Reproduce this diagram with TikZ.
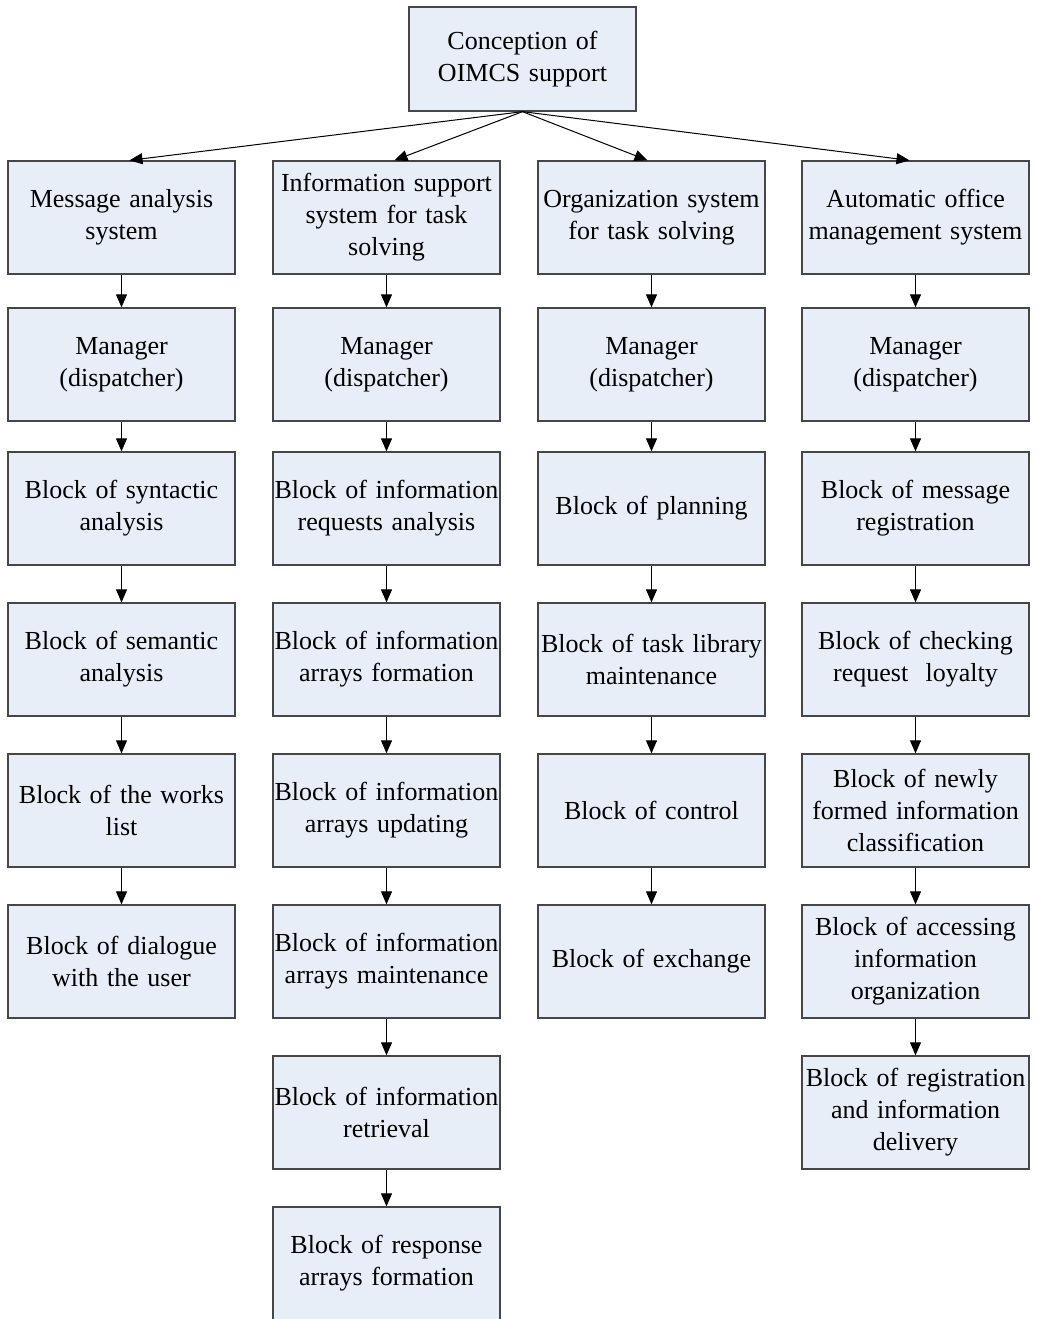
\documentclass[tikz,border=0pt]{standalone}
\usepackage{fontspec}
\setmainfont{Liberation Serif}
\usetikzlibrary{arrows.meta}
\definecolor{boxfill}{RGB}{232,238,248}
\definecolor{boxline}{RGB}{70,70,70}
\begin{document}
\begin{tikzpicture}[x=1pt,y=-1pt,
  blk/.style={draw=boxline,line width=1.3pt,fill=boxfill,minimum width=227pt,minimum height=113pt,
    text width=227pt,inner sep=0pt,align=center,font=\fontsize{26}{32}\selectfont},
  arr/.style={draw=black,line width=1pt,-{Triangle[length=13pt,width=11pt]}}]
\useasboundingbox (0,0) rectangle (1040,1319);
\node[blk,minimum height=104pt] (top) at (522.5,59) {Conception of\\OIMCS support};
% column 1
\node[blk] (a1) at (121.5,217.5) {Message analysis\\system};
\node[blk] (a2) at (121.5,364.5) {Manager\\(dispatcher)};
\node[blk] (a3) at (121.5,508.5) {Block of syntactic\\analysis};
\node[blk] (a4) at (121.5,659.5) {Block of semantic\\analysis};
\node[blk] (a5) at (121.5,810.5) {Block of the works\\list};
\node[blk] (a6) at (121.5,961.5) {Block of dialogue\\with the user};
% column 2
\node[blk] (b1) at (386.5,217.5) {Information support\\system for task\\solving};
\node[blk] (b2) at (386.5,364.5) {Manager\\(dispatcher)};
\node[blk] (b3) at (386.5,508.5) {Block of information\\requests analysis};
\node[blk] (b4) at (386.5,659.5) {Block of information\\arrays formation};
\node[blk] (b5) at (386.5,810.5) {Block of information\\arrays updating};
\node[blk] (b6) at (386.5,961.5) {Block of information\\arrays maintenance};
\node[blk] (b7) at (386.5,1112.5) {Block of information\\retrieval};
\node[blk] (b8) at (386.5,1263.5) {Block of response\\arrays formation};
% column 3
\node[blk] (c1) at (651.5,217.5) {Organization system\\for task solving};
\node[blk] (c2) at (651.5,364.5) {Manager\\(dispatcher)};
\node[blk] (c3) at (651.5,508.5) {Block of planning};
\node[blk] (c4) at (651.5,659.5) {Block of task library\\maintenance};
\node[blk] (c5) at (651.5,810.5) {Block of control};
\node[blk] (c6) at (651.5,961.5) {Block of exchange};
% column 4
\node[blk] (d1) at (915.5,217.5) {Automatic office\\management system};
\node[blk] (d2) at (915.5,364.5) {Manager\\(dispatcher)};
\node[blk] (d3) at (915.5,508.5) {Block of message\\registration};
\node[blk] (d4) at (915.5,659.5) {Block of checking\\request~~loyalty};
\node[blk] (d5) at (915.5,810.5) {Block of newly\\formed information\\classification};
\node[blk] (d6) at (915.5,961.5) {Block of accessing\\information\\organization};
\node[blk] (d7) at (915.5,1112.5) {Block of registration\\and information\\delivery};
% top connectors
\draw[arr] (top.south) -- ([xshift=8pt]a1.north);
\draw[arr] (top.south) -- ([xshift=8pt]b1.north);
\draw[arr] (top.south) -- ([xshift=-4pt]c1.north);
\draw[arr] (top.south) -- ([xshift=-6pt]d1.north);
% vertical connectors
\foreach \p/\q in {a1/a2,a2/a3,a3/a4,a4/a5,a5/a6,
  b1/b2,b2/b3,b3/b4,b4/b5,b5/b6,b6/b7,b7/b8,
  c1/c2,c2/c3,c3/c4,c4/c5,c5/c6,
  d1/d2,d2/d3,d3/d4,d4/d5,d5/d6,d6/d7}
  \draw[arr] (\p.south) -- (\q.north);
\end{tikzpicture}
\end{document}
